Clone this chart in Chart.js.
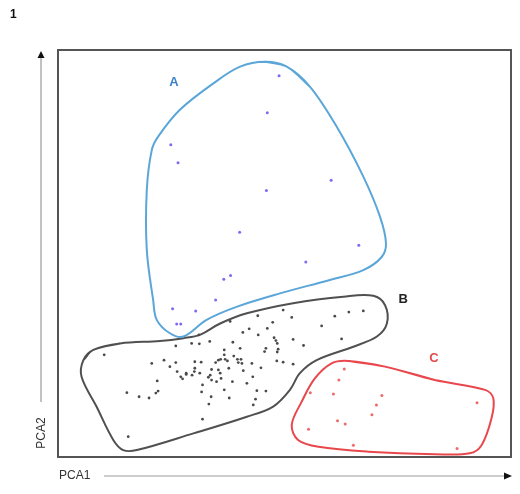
<!DOCTYPE html>
<html><head><meta charset="utf-8">
<script src="https://cdn.jsdelivr.net/npm/chart.js@4/dist/chart.umd.min.js"></script>
<style>html,body{margin:0;padding:0;background:#fff}#wrap{width:520px;height:494px}</style>
</head><body><div id="wrap"><canvas id="c" width="520" height="494"></canvas></div>
<script>
// Cluster A points [PCA1, PCA2] (0-100 units)
const groupA = [[48.8,93.7],[46.2,84.6],[24.9,76.7],[26.5,72.3],[60.3,68.0],[46.0,65.5],[40.1,55.2],[66.4,52.0],[54.7,47.9],[38.1,44.6],[36.6,43.7],[34.8,38.6],[25.3,36.4],[30.4,35.9],[26.2,32.7],[27.1,32.7]];
// Cluster B points
const groupB = [[10.2,25.1],[15.5,5.0],[15.2,15.8],[17.9,14.8],[20.1,14.5],[21.6,15.7],[22.1,16.2],[21.9,18.7],[20.7,23.0],[23.4,23.8],[24.7,22.2],[26.0,23.2],[26.3,21.0],[27.1,19.7],[27.5,19.2],[28.3,20.3],[26.0,27.3],[31.1,30.0],[29.5,27.9],[31.2,27.8],[33.5,28.4],[38.0,33.3],[38.6,28.2],[40.8,30.6],[42.2,31.5],[44.1,34.7],[44.2,30.0],[40.2,26.7],[36.7,26.3],[36.7,25.1],[36.9,24.0],[37.4,23.6],[35.4,23.8],[35.9,24.0],[34.8,23.2],[38.8,24.8],[39.6,24.0],[40.4,24.0],[39.8,23.2],[40.6,23.0],[30.2,23.4],[31.6,23.3],[30.2,21.8],[30.1,21.0],[28.3,20.6],[29.6,20.1],[31.3,20.6],[33.9,21.5],[35.4,21.4],[35.8,20.6],[33.6,20.1],[33.2,19.6],[33.9,18.9],[37.7,21.8],[40.9,21.2],[42.8,23.0],[35.0,18.5],[36.0,19.3],[38.5,18.5],[41.7,18.1],[31.9,17.7],[31.7,16.0],[36.7,16.5],[43.9,16.3],[33.8,14.8],[37.8,14.5],[43.6,14.2],[33.3,13.0],[43.1,12.8],[31.9,9.3],[49.7,36.1],[51.6,34.3],[47.4,33.1],[46.2,31.6],[58.2,32.2],[47.7,29.3],[48.1,28.6],[48.4,27.9],[51.9,28.9],[54.2,27.4],[45.9,26.7],[45.6,25.9],[48.4,25.8],[48.3,23.6],[49.7,23.3],[51.9,22.8],[44.8,21.9],[45.9,16.2],[61.1,34.6],[64.2,35.6],[67.4,35.9],[62.6,29.0],[43.0,19.7],[48.6,26.5]];
// Cluster C points
const groupC = [[63.2,21.6],[62.0,18.9],[55.7,15.8],[60.8,15.5],[71.5,15.1],[70.3,12.8],[92.5,13.3],[69.3,10.4],[61.7,8.9],[63.4,8.1],[55.3,6.8],[65.2,2.9],[88.1,2.1]];
// Hull outlines
const hullA = [[45.7,97.1],[50.5,95.9],[55.6,91.0],[61.5,81.2],[67.4,68.9],[71.1,59.0],[72.4,52.5],[71.5,49.2],[67.4,45.9],[60.0,43.5],[49.0,40.2],[39.4,36.9],[32.8,33.7],[27.7,29.6],[24.7,30.4],[21.8,33.7],[21.0,38.6],[19.6,50.9],[19.6,65.6],[20.7,75.4],[22.1,78.7],[26.9,85.3],[34.3,91.8],[40.2,95.9]];
const hullB = [[5.6,23.8],[7.8,26.3],[13.7,27.9],[22.5,28.5],[27.7,29.2],[31.3,30.0],[35.8,32.8],[41.7,35.3],[51.9,37.8],[63.0,39.4],[69.6,39.6],[72.2,37.3],[72.6,32.8],[70.4,29.6],[65.2,27.1],[57.1,23.8],[53.4,20.6],[51.2,16.5],[47.5,12.4],[41.7,9.9],[29.9,5.8],[17.4,1.7],[14.4,1.7],[12.2,4.2],[8.5,12.4],[5.2,19.7]];
const hullC = [[64.1,23.6],[72.2,22.2],[83.2,18.9],[94.3,16.5],[96.1,14.4],[95.7,9.5],[93.5,2.9],[90.9,0.9],[83.2,0.7],[68.5,1.3],[57.5,2.5],[53.0,4.2],[51.6,7.9],[53.8,13.6],[56.7,19.3],[60.4,23.0]];
// Cluster labels
const clusterNames = ['A','B','C'];
const labelPos = [[25.6,92.1],[76.2,38.6],[83.0,24.3]];
const axisTitles = ['PCA1','PCA2'];
const panelTag = '1';

const toXY = a => a.map(p => ({x:p[0], y:p[1]}));
const closed = a => { const c = a.concat([a[0], a[1], a[2]]); return toXY(c); };

const overlay = {
  id:'overlay',
  afterDraw(chart){
    const ctx = chart.ctx, ca = chart.chartArea, xs = chart.scales.x, ys = chart.scales.y;
    ctx.save();
    // frame
    ctx.strokeStyle = '#555'; ctx.lineWidth = 2;
    ctx.strokeRect(ca.left, ca.top, ca.right-ca.left, ca.bottom-ca.top);
    // y arrow
    ctx.strokeStyle = '#999'; ctx.lineWidth = 1.2;
    ctx.beginPath(); ctx.moveTo(41, ca.top+352); ctx.lineTo(41, ca.top+6); ctx.stroke();
    ctx.fillStyle = '#111';
    ctx.beginPath(); ctx.moveTo(41, ca.top+1); ctx.lineTo(37.5, ca.top+8); ctx.lineTo(44.5, ca.top+8); ctx.closePath(); ctx.fill();
    // x arrow
    ctx.strokeStyle = '#999';
    ctx.beginPath(); ctx.moveTo(104, ca.bottom+19); ctx.lineTo(ca.right-5, ca.bottom+19); ctx.stroke();
    ctx.beginPath(); ctx.moveTo(ca.right+1, ca.bottom+19); ctx.lineTo(ca.right-7, ca.bottom+15.5); ctx.lineTo(ca.right-7, ca.bottom+22.5); ctx.closePath(); ctx.fill();
    // axis titles
    ctx.fillStyle = '#333'; ctx.font = '12px "Liberation Sans", Arial, sans-serif';
    ctx.textBaseline = 'middle'; ctx.textAlign = 'left';
    ctx.fillText(axisTitles[0], 59, ca.bottom+19);
    ctx.save(); ctx.translate(42, 433); ctx.rotate(-Math.PI/2); ctx.textAlign='center';
    ctx.fillText(axisTitles[1], 0, 0); ctx.restore();
    // panel tag
    ctx.font = 'bold 12px "Liberation Sans", Arial, sans-serif'; ctx.fillStyle = '#111';
    ctx.textAlign = 'left'; ctx.fillText(panelTag, 10, 15);
    // cluster labels
    const cols = ['#3d82c8','#222','#e24b4b'];
    ctx.font = 'bold 13px "Liberation Sans", Arial, sans-serif'; ctx.textAlign='center';
    clusterNames.forEach((n,i)=>{ ctx.fillStyle = cols[i]; ctx.fillText(n, xs.getPixelForValue(labelPos[i][0]), ys.getPixelForValue(labelPos[i][1])); });
    ctx.restore();
  }
};

new Chart(document.getElementById('c'), {
  type:'scatter',
  data:{ datasets:[
    {data:toXY(groupB), pointRadius:1.4, pointBackgroundColor:'#4a4a4a', pointBorderWidth:0, showLine:false},
    {data:toXY(groupA), pointRadius:1.5, pointBackgroundColor:'#7b6cf0', pointBorderWidth:0, showLine:false},
    {data:toXY(groupC), pointRadius:1.5, pointBackgroundColor:'#ee6a6a', pointBorderWidth:0, showLine:false},
    {data:closed(hullA), showLine:true, pointRadius:0, borderColor:'#5ba6d9', borderWidth:2, tension:0.35, fill:false},
    {data:closed(hullB), showLine:true, pointRadius:0, borderColor:'#505050', borderWidth:2, tension:0.35, fill:false},
    {data:closed(hullC), showLine:true, pointRadius:0, borderColor:'#e8474c', borderWidth:2, tension:0.35, fill:false}
  ]},
  options:{
    responsive:false, animation:false, devicePixelRatio:1,
    layout:{padding:{left:58, right:9, top:50, bottom:37}},
    plugins:{legend:{display:false}, tooltip:{enabled:false}},
    scales:{
      x:{type:'linear', min:0, max:100, display:false},
      y:{type:'linear', min:0, max:100, display:false}
    },
    clip:false
  },
  plugins:[overlay]
});
</script></body></html>
